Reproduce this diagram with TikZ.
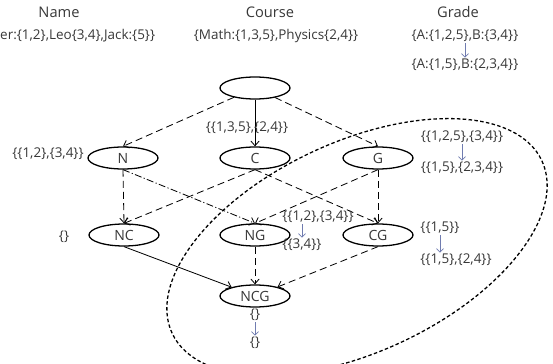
\documentclass[tikz,border=0pt]{standalone}
\usepackage{fontspec}
\setmainfont{Open Sans}
\usetikzlibrary{arrows.meta,shapes.geometric}
\definecolor{LatText}{RGB}{56,56,56}
\definecolor{LatBlue}{RGB}{112,124,176}
\tikzset{
  lat/node/.style={
    ellipse,
    draw=black,
    line width=1.1pt,
    fill=white,
    minimum width=2.1cm,
    minimum height=0.66cm,
    inner sep=0pt,
    text=LatText,
    font=\fontsize{12}{14}\selectfont
  },
  lat/title/.style={font=\fontsize{12.5}{15}\selectfont, text=LatText, inner sep=1pt},
  lat/label/.style={font=\fontsize{11.5}{13}\selectfont, text=LatText, inner sep=1pt},
  lat/arrow/.style={-{Straight Barb[length=4pt,width=7pt]}, line width=0.7pt, draw=black},
  lat/dasharrow/.style={lat/arrow, dash pattern=on 6pt off 3.5pt},
  lat/dotarrow/.style={lat/arrow, dash pattern=on 6pt off 2pt on 1pt off 2pt},
  lat/refine/.style={-{Straight Barb[length=3pt,width=6pt]}, line width=0.6pt, draw=LatBlue},
  lat/region/.style={line width=1.1pt, dash pattern=on 3pt off 2pt, draw=black}
}
\begin{document}
\begin{tikzpicture}[x=0.03cm,y=-0.03cm]
  \useasboundingbox (0,0) rectangle (553,364);
  % attribute headers
  \node[lat/title] (tname) at (59,12) {Name};
  \node[lat/title] (tcourse) at (270,12) {Course};
  \node[lat/title] (tgrade) at (458,12) {Grade};
  \node[lat/label,anchor=west,inner xsep=0pt] (pname) at (0,36) {er:\{1,2\},Leo\{3,4\},Jack:\{5\}\}};
  \node[lat/label] (pcourse) at (276,36) {\{Math:\{1,3,5\},Physics\{2,4\}\}};
  \node[lat/label] (pgrade0) at (465,36) {\{A:\{1,2,5\},B:\{3,4\}\}};
  \node[lat/label] (pgrade1) at (465,65) {\{A:\{1,5\},B:\{2,3,4\}\}};
  \draw[lat/refine] (pgrade0) -- (pgrade1);

  % lattice
  \node[lat/node] (root) at (255,88) {};
  \node[lat/node] (N) at (123,158) {N};
  \node[lat/node] (C) at (255,158) {C};
  \node[lat/node] (G) at (378,158) {G};
  \node[lat/node] (NC) at (124,235) {NC};
  \node[lat/node] (NG) at (255,235) {NG};
  \node[lat/node] (CG) at (378,235) {CG};
  \node[lat/node] (NCG) at (255,296) {NCG};

  \draw[lat/dasharrow] (root) -- (N.north);
  \draw[lat/arrow] (root) -- (C.north);
  \draw[lat/dasharrow] (root) -- (G.north);
  \draw[lat/dasharrow] (N.south) -- (NC.north);
  \draw[lat/dotarrow] (N.south) -- (NG.north);
  \draw[lat/dasharrow] (C.south) -- (NC.north);
  \draw[lat/dasharrow] (C.south) -- (CG.north);
  \draw[lat/dasharrow] (G.south) -- (NG.north);
  \draw[lat/dasharrow] (G.south) -- (CG.north);
  \draw[lat/arrow] (NC.south) -- (NCG);
  \draw[lat/dasharrow] (NG.south) -- (NCG.north);
  \draw[lat/dasharrow] (CG.south) -- (NCG);

  % partitions
  \node[lat/label] (lN) at (48,154) {\{\{1,2\},\{3,4\}\}};
  \node[lat/label] (lC) at (247,128) {\{\{1,3,5\},\{2,4\}\}};
  \node[lat/label] (lG0) at (462,137) {\{\{1,2,5\},\{3,4\}\}};
  \node[lat/label] (lG1) at (462,168) {\{\{1,5\},\{2,3,4\}\}};
  \draw[lat/refine] (lG0) -- (lG1);
  \node[lat/label] (lNC) at (64,237) {\{\}};
  \node[lat/label] (lNG0) at (318,217) {\{\{1,2\},\{3,4\}\}};
  \node[lat/label] (lNG1) at (302,245) {\{\{3,4\}\}};
  \draw[lat/refine] (lNG1.north |- lNG0.south) -- (lNG1.north);
  \node[lat/label] (lCG0) at (440,228) {\{\{1,5\}\}};
  \node[lat/label] (lCG1) at (456,260) {\{\{1,5\},\{2,4\}\}};
  \draw[lat/refine] (lCG0.south) -- (lCG0.south |- lCG1.north);
  \node[lat/label] (lNCG0) at (255,315) {\{\}};
  \node[lat/label] (lNCG1) at (255,343) {\{\}};
  \draw[lat/refine] (lNCG0) -- (lNCG1);

  % grade region
  \draw[lat/region, rotate around={25:(357,247)}] (357,247) ellipse [x radius=204, y radius=105];
\end{tikzpicture}
\end{document}
